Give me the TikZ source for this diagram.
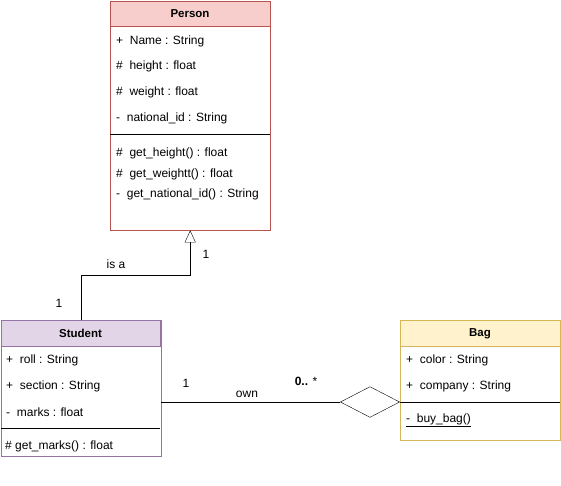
\documentclass[tikz,border=0pt]{standalone}
\usepackage{fontspec}
\setmainfont{Liberation Sans}
\usetikzlibrary{arrows.meta}
\definecolor{personfill}{HTML}{F8CECC}
\definecolor{personline}{HTML}{B85450}
\definecolor{studentfill}{HTML}{E1D5E7}
\definecolor{studentline}{HTML}{9673A6}
\definecolor{bagfill}{HTML}{FFF2CC}
\definecolor{bagline}{HTML}{D6B656}
\tikzset{
  classbox/.style={draw, minimum width=160pt, inner sep=0pt, anchor=north west},
  classname/.style={font=\fontsize{11.5}{13}\selectfont\bfseries},
  row/.style={anchor=west, inner sep=0pt, yshift=-1pt},
  inherit/.style={-{Triangle[fill=white,length=12pt,width=11pt]}},
  aggregate/.style={-{Diamond[fill=white,length=60pt,width=31pt]}}
}

\begin{document}
\begin{tikzpicture}[x=1pt, y=-1pt, font=\fontsize{12}{14}\selectfont]
            \useasboundingbox (0,0) rectangle (561,485);
            % Person
            \node[classbox, draw=personline, minimum height=229pt] (person) at (110,1) {};
            \filldraw[draw=personline, fill=personfill] (person.north west) rectangle ++(160,25);
            \node[classname] (personname) at (190,14) {Person};
            \node[row] (pname) at (116,40) {+\ \ Name : String};
            \node[row] (pheight) at (116,65) {\#\ \ height : float};
            \node[row] (pweight) at (116,91) {\#\ \ weight : float};
            \node[row] (pnid) at (116,117) {-\ \ national\_id : String};
            \draw (110,134) -- (270,134);
            \node[row] (pgeth) at (116,152) {\#\ \ get\_height() : float};
            \node[row] (pgetw) at (116,173) {\#\ \ get\_weightt() : float};
            \node[row] (pgetn) at (116,193) {-\ \ get\_national\_id() : String};
            % Student
            \node[classbox, draw=studentline, minimum height=136pt] (student) at (1,320) {};
            \filldraw[draw=studentline, fill=studentfill] (student.north west) rectangle ++(159,26);
            \node[classname] (studentname) at (80.5,333.5) {Student};
            \node[row] (sroll) at (6,359) {+\ \ roll : String};
            \node[row] (ssection) at (6,385) {+\ \ section : String};
            \node[row] (smarks) at (6,411) {-\ \ marks : float};
            \draw (1,428) -- (160,428);
            \node[row] (sgetm) at (5,445) {\# get\_marks() : float};
            % Bag
            \node[classbox, draw=bagline, minimum height=120pt] (bag) at (400,320) {};
            \filldraw[draw=bagline, fill=bagfill] (bag.north west) rectangle ++(160,26);
            \node[classname] (bagname) at (480,333.5) {Bag};
            \node[row] (bcolor) at (406,359) {+\ \ color : String};
            \node[row] (bcompany) at (406,385) {+\ \ company : String};
            \coordinate (bagsep) at (400,402);
            \draw (bagsep) -- (560,402);
            \node[row] (bbuy) at (406,419) {\underline{-\ \ buy\_bag()}};
            % relations
            \draw[inherit] (student.north) -- ++(0,-45) -| (person.south);
            \node (isa) at (116,264) {is a};
            \node (onep) at (206,254) {1};
            \node (ones) at (59,303) {1};
            \draw[aggregate] (student.east |- bagsep) -- (bagsep);
            \node (oneown) at (186,383) {1};
            \node (own) at (247,394) {own};
            \node (many) at (306,381) {\textbf{0..} *};
        \end{tikzpicture}
\end{document}
